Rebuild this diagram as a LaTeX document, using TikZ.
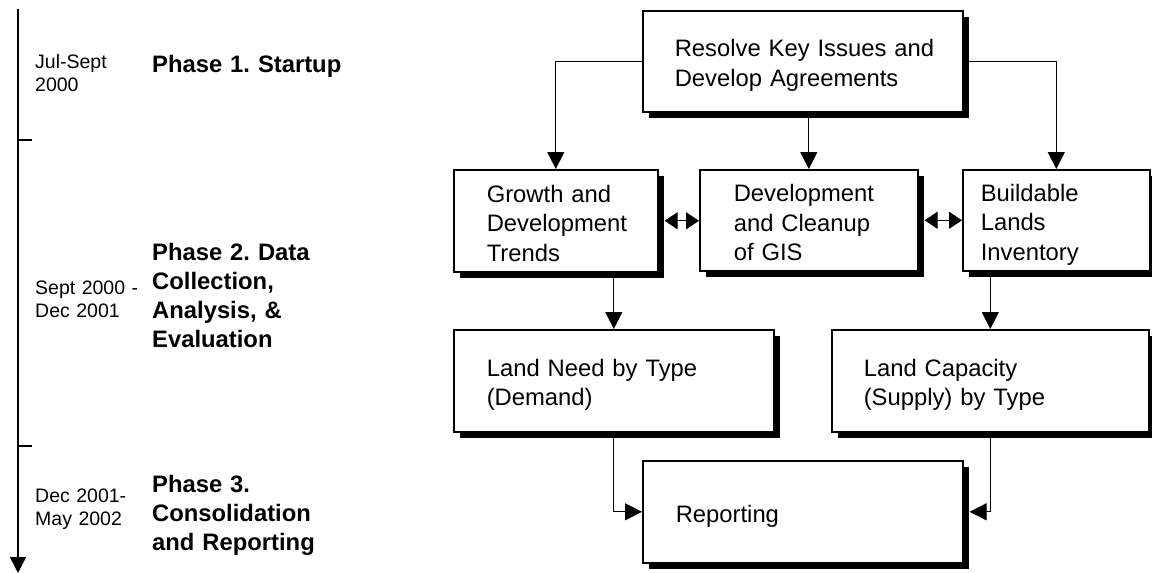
\documentclass[tikz,border=0pt]{standalone}
\usepackage{fontspec}
\setmainfont{Liberation Sans}
\usetikzlibrary{arrows.meta,shadows}
\newcommand\boxtopstrut{\rule{0pt}{25.8pt}}
\newcommand\boxbotstrut{\rule[-3.7pt]{0pt}{3.7pt}}
\begin{document}
\frenchspacing
\begin{tikzpicture}[x=1pt,y=-1pt,
  box/.style={draw,line width=1.6pt,fill=white,anchor=north west,
    inner xsep=4pt,inner ysep=0pt,align=left,
    font=\fontsize{23.8}{29.5}\selectfont,
    drop shadow={shadow xshift=6pt,shadow yshift=-6pt,fill=black,opacity=1}},
  boxdim/.style n args={3}{text width=#1pt-8pt,minimum height=#2pt,
    execute at begin node={\leftskip=#3pt\relax\boxtopstrut},
    execute at end node={\boxbotstrut}},
  conn/.style={line width=1.2pt,-{Triangle[length=17pt,width=17pt]}},
  dbl/.style={line width=1.2pt,{Triangle[length=13pt,width=17pt]}-{Triangle[length=13pt,width=17pt]}},
  phase/.style={anchor=base west,inner sep=0pt,align=left,text width=200pt,
    font=\fontsize{23.8}{29.3}\selectfont\bfseries},
  date/.style={anchor=base west,inner sep=0pt,align=left,text width=112pt,
    font=\fontsize{19.5}{23}\selectfont},
  timeline/.style={line width=1.5pt}
]
\useasboundingbox (0,0) rectangle (1152,573);

% timeline
\draw[timeline,-{Triangle[length=16pt,width=16pt]}] (18,9) -- (18,573);
\draw[timeline] (18,140) -- (32,140);
\draw[timeline] (18,446) -- (32,446);

% phase labels
\node[date] (d1) at (35,68) {Jul-Sept\\2000};
\node[phase] (p1) at (152,72) {Phase 1. Startup};
\node[date] (d2) at (35,294) {Sept 2000 -\\Dec 2001};
\node[phase] (p2) at (152,260) {Phase 2. Data\\Collection,\\Analysis, \&\\Evaluation};
\node[date] (d3) at (35,502) {Dec 2001-\\May 2002};
\node[phase] (p3) at (152,492) {Phase 3.\\Consolidation\\and Reporting};

% boxes
\node[box,boxdim={320}{101}{28}] (top) at (642,10) {Resolve Key Issues and\\Develop Agreements};
\node[box,boxdim={204}{102}{29}] (growth) at (453,169) {Growth and\\Development\\Trends};
\node[box,boxdim={218}{101}{30}] (devgis) at (699,169) {Development\\and Cleanup\\of GIS};
\node[box,boxdim={187}{101}{14}] (build) at (962,169) {Buildable\\Lands\\Inventory};
\node[box,boxdim={320}{102}{29}] (need) at (453,329) {Land Need by Type\\(Demand)};
\node[box,boxdim={317}{102}{28}] (cap) at (831,329) {Land Capacity\\(Supply) by Type};
\node[box,boxdim={320}{102}{29}] (rep) at (642,460) {Reporting};

% connectors
\draw[conn] (top.west) -| (growth.north);
\draw[conn] (top.east) -| (build.north);
\draw[conn] (top.south -| devgis.north) -- (devgis.north);
\draw[conn] (growth.south -| need.north) -- (need.north);
\draw[conn] (build.south -| cap.north) -- (cap.north);
\draw[conn] (need.south) |- (rep.west);
\draw[conn] (cap.south) |- ([xshift=6pt]rep.east);
\draw[dbl] ([xshift=6pt]growth.east) -- (growth.east -| devgis.west);
\draw[dbl] ([xshift=6pt]devgis.east) -- (devgis.east -| build.west);
\end{tikzpicture}
\end{document}
